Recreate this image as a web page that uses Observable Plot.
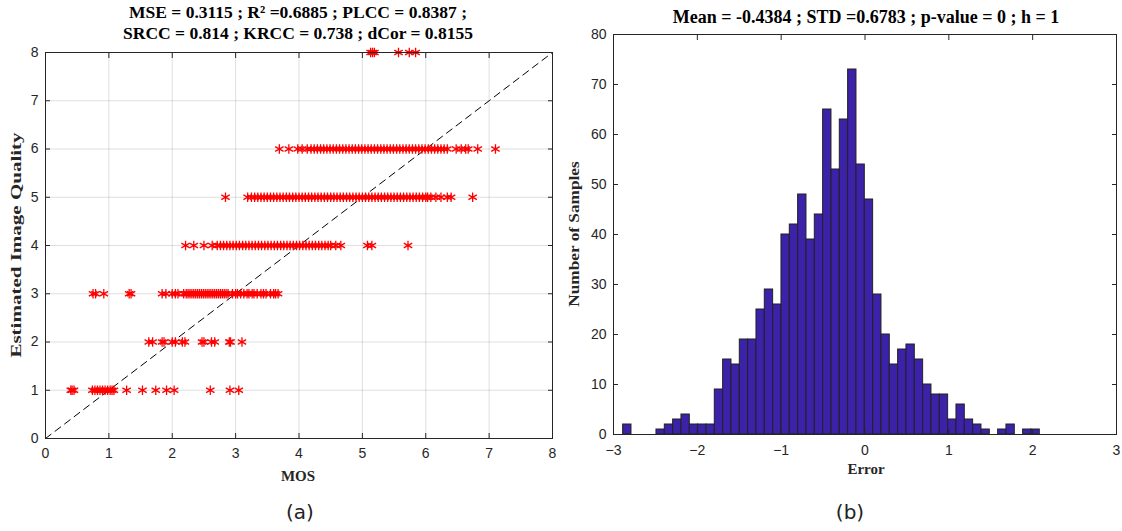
<!DOCTYPE html>
<html>
<head>
<meta charset="utf-8">
<script src="https://cdn.jsdelivr.net/npm/d3@7"></script>
<script src="https://cdn.jsdelivr.net/npm/@observablehq/plot@0.6"></script>
<style>
  html, body { margin: 0; padding: 0; background: #fff; }
  #wrap { position: relative; width: 1122px; height: 531px; overflow: hidden; background: #fff; }
  .abs { position: absolute; white-space: nowrap; }
  .title { font-family: "Liberation Serif", serif; font-weight: bold; font-size: 17.5px; color: #000; text-align: center; line-height: 21px; }
  .xlab { font-family: "Liberation Serif", serif; font-weight: bold; font-size: 15px; color: #262626; transform: translate(-50%, -50%); }
  .ylab { font-family: "Liberation Serif", serif; font-weight: bold; font-size: 15px; color: #262626; }
  .cap { font-family: "DejaVu Sans", sans-serif; font-size: 20px; color: #222; transform: translate(-50%, -50%); }
</style>
</head>
<body>
<div id="wrap"></div>
<script>
// ---------- Panel (a): scatter data (MOS values per estimated quality level) ----------
const mosTicks = [0, 1, 2, 3, 4, 5, 6, 7, 8];
const qualTicks = [0, 1, 2, 3, 4, 5, 6, 7, 8];
const mosAtQ1 = [0.40, 0.42, 0.45, 0.74, 0.78, 0.82, 0.86, 0.90, 0.94, 0.98, 1.02, 1.05, 1.08, 1.28, 1.53, 1.74, 1.91, 2.03, 2.60, 2.91, 3.05];
const mosAtQ2 = [1.63, 1.69, 1.84, 1.87, 2.00, 2.05, 2.16, 2.20, 2.47, 2.50, 2.62, 2.67, 2.90, 2.92, 3.10];
const mosAtQ3 = [0.75, 0.79, 0.92, 1.32, 1.35, 1.84, 1.90, 2.00, 2.05, 2.09, 2.18, 2.22, 2.25, 2.28, 2.31, 2.34, 2.37, 2.40, 2.43, 2.46, 2.49, 2.52, 2.55, 2.58, 2.61, 2.64, 2.67, 2.70, 2.73, 2.76, 2.79, 2.82, 2.85, 2.88, 2.95, 3.00, 3.03, 3.08, 3.13, 3.18, 3.21, 3.26, 3.29, 3.34, 3.40, 3.44, 3.48, 3.55, 3.60, 3.63, 3.67];
const mosAtQ4 = [2.21, 2.34, 2.50, 2.63, 2.71, 2.76, 2.81, 2.86, 2.91, 2.96, 3.01, 3.06, 3.11, 3.16, 3.21, 3.26, 3.31, 3.36, 3.41, 3.46, 3.51, 3.56, 3.61, 3.66, 3.71, 3.76, 3.81, 3.86, 3.91, 3.96, 4.01, 4.06, 4.11, 4.16, 4.21, 4.26, 4.31, 4.36, 4.41, 4.46, 4.50, 4.58, 4.66, 5.08, 5.15, 5.72];
const mosAtQ5 = [2.84, 3.19, 3.25, 3.30, 3.35, 3.40, 3.45, 3.50, 3.55, 3.60, 3.65, 3.70, 3.75, 3.80, 3.85, 3.90, 3.95, 4.00, 4.05, 4.10, 4.15, 4.20, 4.25, 4.30, 4.35, 4.40, 4.45, 4.50, 4.55, 4.60, 4.65, 4.70, 4.75, 4.80, 4.85, 4.90, 4.95, 5.00, 5.05, 5.10, 5.15, 5.20, 5.25, 5.30, 5.35, 5.40, 5.45, 5.50, 5.55, 5.60, 5.65, 5.70, 5.75, 5.80, 5.85, 5.90, 5.95, 6.00, 6.03, 6.08, 6.16, 6.24, 6.34, 6.40, 6.74];
const mosAtQ6 = [3.69, 3.84, 3.98, 4.05, 4.13, 4.19, 4.24, 4.29, 4.34, 4.39, 4.44, 4.49, 4.54, 4.59, 4.64, 4.69, 4.74, 4.79, 4.84, 4.89, 4.94, 4.99, 5.04, 5.09, 5.14, 5.19, 5.24, 5.29, 5.34, 5.39, 5.44, 5.49, 5.54, 5.59, 5.64, 5.69, 5.74, 5.79, 5.84, 5.89, 5.94, 5.99, 6.04, 6.09, 6.14, 6.19, 6.24, 6.29, 6.34, 6.48, 6.56, 6.63, 6.67, 6.82, 7.10];
const mosAtQ8 = [5.13, 5.16, 5.19, 5.57, 5.74, 5.84];

// ---------- Panel (b): histogram of errors ----------
const errTicks = [-3, -2, -1, 0, 1, 2, 3];
const countTicks = [0, 10, 20, 30, 40, 50, 60, 70, 80];
const errBinStart = -2.885;
const errBinWidth = 0.0994;
const errCounts = [2, 0, 0, 0, 1, 2, 3, 4, 2, 2, 2, 9, 15, 14, 19, 19, 25, 29, 26, 40, 42, 48, 39, 44, 65, 53, 63, 73, 54, 47, 28, 20, 14, 17, 18, 15, 10, 8, 8, 3, 6, 3, 2, 1, 0, 1, 2, 0, 1, 1];

const titleA = ["MSE = 0.3115 ; R\u00B2 =0.6885 ; PLCC = 0.8387 ;", "SRCC = 0.814 ; KRCC = 0.738 ; dCor = 0.8155"];
const titleB = "Mean = -0.4384 ; STD =0.6783 ; p-value = 0 ; h = 1";

// ---------- build tables ----------
const levels = [[1, mosAtQ1], [2, mosAtQ2], [3, mosAtQ3], [4, mosAtQ4], [5, mosAtQ5], [6, mosAtQ6], [8, mosAtQ8]];
const points = levels.flatMap(([q, arr]) => arr.map(m => ({mos: m, q})));
const bins = errCounts.map((c, i) => ({x1: errBinStart + i * errBinWidth, x2: errBinStart + (i + 1) * errBinWidth, count: c}));

const axisColor = "#262626";
const baseStyle = {fontFamily: "Liberation Sans, Arial, sans-serif", fontSize: "14px", color: axisColor, background: "transparent", overflow: "visible"};
const blank = () => "";
const tickFont = {fontSize: 14, fill: axisColor, stroke: axisColor};

const plotA = Plot.plot({
  width: 560, height: 480,
  marginLeft: 45, marginRight: 8, marginTop: 52, marginBottom: 42,
  x: {domain: [0, 8]},
  y: {domain: [0, 8]},
  style: baseStyle,
  marks: [
    Plot.gridX(mosTicks, {stroke: axisColor, strokeOpacity: 0.15}),
    Plot.gridY(qualTicks, {stroke: axisColor, strokeOpacity: 0.15}),
    Plot.line(mosTicks, {x: d => d, y: d => d, stroke: "#000", strokeWidth: 1, strokeDasharray: "7,5"}),
    Plot.dot(points, {x: "mos", y: "q", symbol: "asterisk", r: 4.6, stroke: "#ff0000", strokeWidth: 1.3}),
    Plot.axisX(mosTicks, {anchor: "bottom", tickSize: -5, tickPadding: 15, label: null, ...tickFont}),
    Plot.axisX(mosTicks, {anchor: "top", tickSize: -5, tickFormat: blank, label: null, stroke: axisColor}),
    Plot.axisY(qualTicks, {anchor: "left", tickSize: -5, tickPadding: 12, label: null, ...tickFont}),
    Plot.axisY(qualTicks, {anchor: "right", tickSize: -5, tickFormat: blank, label: null, stroke: axisColor}),
    Plot.frame({stroke: axisColor})
  ]
});

const plotB = Plot.plot({
  width: 562, height: 480,
  marginLeft: 53, marginRight: 6, marginTop: 34, marginBottom: 46,
  x: {domain: [-3, 3]},
  y: {domain: [0, 80]},
  style: baseStyle,
  marks: [
    Plot.rectY(bins, {x1: "x1", x2: "x2", y: "count", fill: "#3b22a8", stroke: "#222", strokeWidth: 1}),
    Plot.axisX(errTicks, {anchor: "bottom", tickSize: -5, tickPadding: 16, label: null, ...tickFont}),
    Plot.axisX(errTicks, {anchor: "top", tickSize: -5, tickFormat: blank, label: null, stroke: axisColor}),
    Plot.axisY(countTicks, {anchor: "left", tickSize: -5, tickPadding: 12, label: null, ...tickFont}),
    Plot.axisY(countTicks, {anchor: "right", tickSize: -5, tickFormat: blank, label: null, stroke: axisColor}),
    Plot.frame({stroke: axisColor})
  ]
});

const wrap = document.getElementById("wrap");
function place(el, left, top) { el.style.position = "absolute"; el.style.left = left + "px"; el.style.top = top + "px"; wrap.appendChild(el); }
place(plotA, 0, 0);
place(plotB, 560, 0);

function addText(cls, text, x, y, extra) {
  const d = document.createElement("div");
  d.className = "abs " + cls;
  d.textContent = text;
  d.style.left = x + "px"; d.style.top = y + "px";
  if (extra) Object.assign(d.style, extra);
  wrap.appendChild(d);
  return d;
}
const tA = document.createElement("div");
tA.className = "abs title";
tA.innerHTML = titleA.map(s => `<div>${s}</div>`).join("");
tA.style.left = "298px"; tA.style.top = "2px"; tA.style.transform = "translateX(-50%)";
wrap.appendChild(tA);
addText("title", titleB, 866, 7, {transform: "translateX(-50%)", fontSize: "18px"});
addText("xlab", "MOS", 298, 476);
addText("xlab", "Error", 866, 469);
addText("ylab", "Estimated Image Quality", 16, 245, {transform: "translate(-50%, -50%) rotate(-90deg) scaleX(1.4)"});
addText("ylab", "Number of Samples", 574, 234, {transform: "translate(-50%, -50%) rotate(-90deg) scaleX(1.15)"});
addText("cap", "(a)", 300, 512);
addText("cap", "(b)", 850, 512);
</script>
</body>
</html>
